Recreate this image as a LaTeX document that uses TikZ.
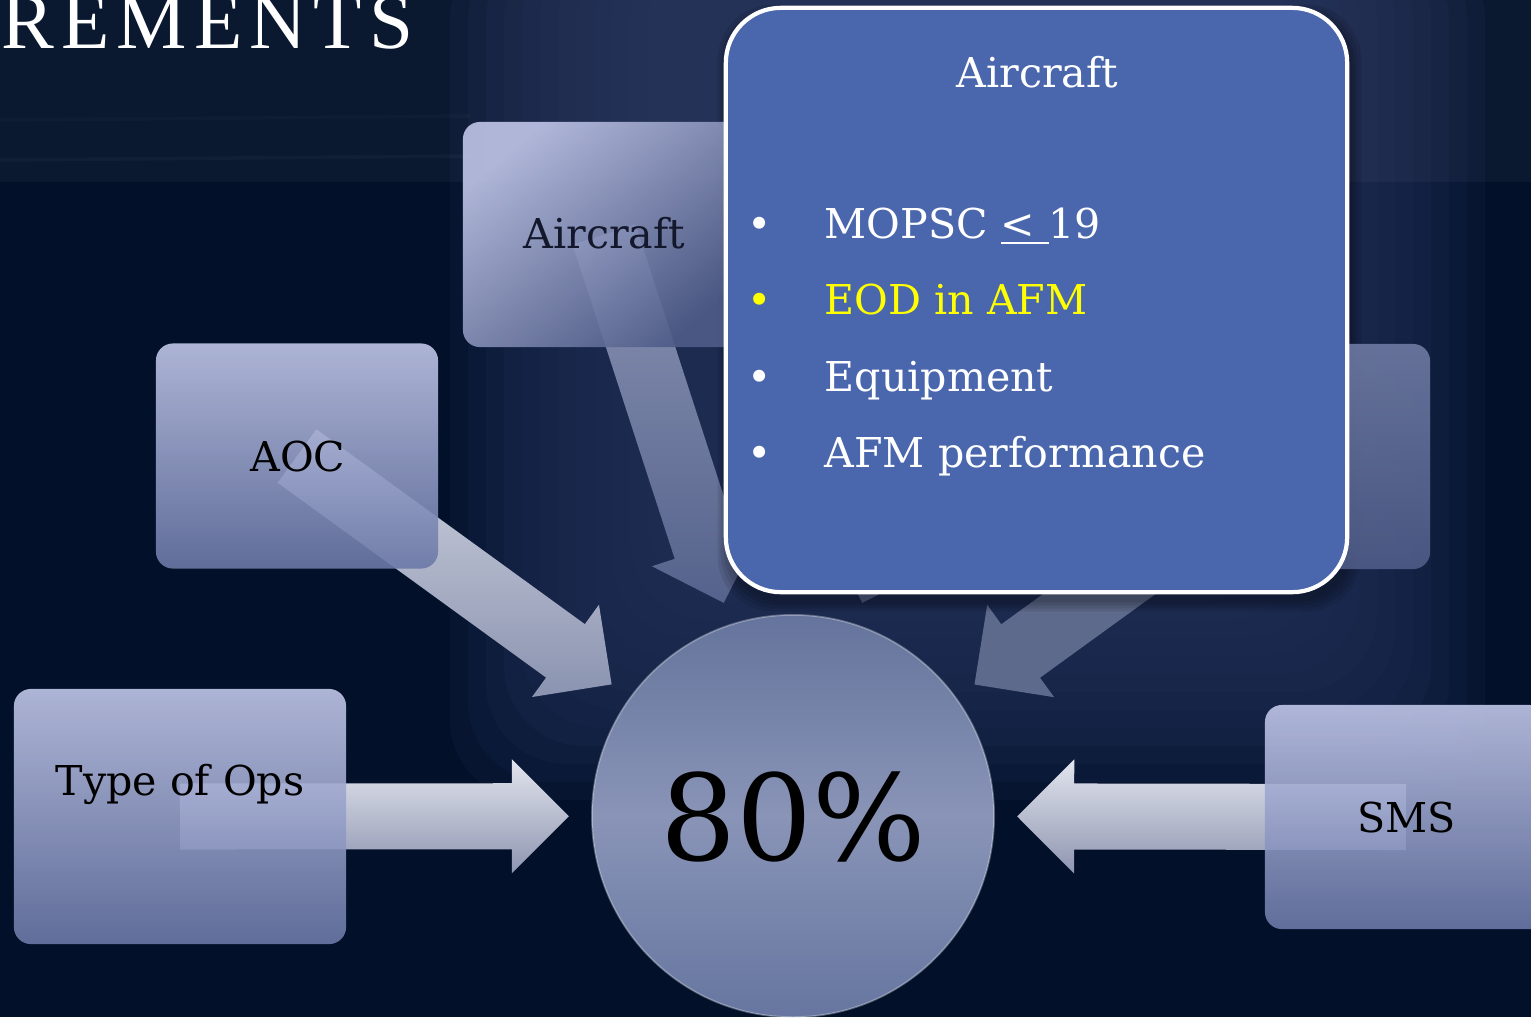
\documentclass[tikz,border=0pt]{standalone}
\usepackage{fontspec}
\setmainfont{DejaVu Serif}
\newfontfamily\headfont{Liberation Serif}[LetterSpace=9]
\usetikzlibrary{calc}

% palette
\definecolor{bgdark}{HTML}{021029}
\definecolor{bgglow}{HTML}{223058}
\definecolor{panelhi}{HTML}{C0C6E8}
\definecolor{panello}{HTML}{6B78A7}
\definecolor{paneldk}{HTML}{4F5C88}
\definecolor{panelmid}{HTML}{6E7AA2}
\definecolor{calloutblue}{HTML}{4A67AE}
\definecolor{hubtop}{HTML}{65749C}
\definecolor{hubmid}{HTML}{8994B7}
\definecolor{hubbot}{HTML}{6676A0}
\definecolor{arrowhi}{HTML}{E2E5EE}
\definecolor{arrowlo}{HTML}{8E95B0}
\definecolor{aochi}{HTML}{D2D5E0}
\definecolor{aoclo}{HTML}{8A93B0}
\definecolor{acfthi}{HTML}{8A94B4}
\definecolor{acftlo}{HTML}{55628B}
\definecolor{arrowdim}{HTML}{5E6A8C}
\definecolor{arrowdimmer}{HTML}{56628A}
\definecolor{acfttext}{HTML}{14182C}
\definecolor{eodyellow}{HTML}{FFFF00}

\pgfdeclarelayer{backdrop}
\pgfdeclarelayer{arrowlayer}
\pgfdeclarelayer{shadowlayer}
\pgfsetlayers{backdrop,arrowlayer,shadowlayer,main}

% block arrow: #1 name, #2 style, #3 start point, #4 target node
% tip stops 224 units short of the target centre; 90 degree head
\newcommand{\blockarrow}[4]{%
  \coordinate (#1-s) at (#3);
  \coordinate (#1-t) at ($(#4.center)!2.24cm!(#3)$);
  \coordinate (#1-b) at ($(#1-t)!0.57cm!(#1-s)$);
  \path[#2] ($(#1-s)!0.33cm!90:(#1-t)$) -- ($(#1-b)!0.33cm!90:(#1-t)$)
    -- ($(#1-b)!0.57cm!90:(#1-t)$) -- (#1-t)
    -- ($(#1-b)!0.57cm!-90:(#1-t)$) -- ($(#1-b)!0.33cm!-90:(#1-t)$)
    -- ($(#1-s)!0.33cm!-90:(#1-t)$) -- cycle;
}

\begin{document}
\begin{tikzpicture}[x=0.01cm, y=-0.01cm,
  panel/.style={rectangle, rounded corners=0.17cm, inner sep=0,
    minimum width=2.82cm, minimum height=2.25cm, fill opacity=0.9,
    top color=panelhi, bottom color=panello},
  lbl/.style={inner sep=0, font=\fontsize{11.7}{14}\selectfont},
  darklbl/.style={lbl, text=black},
  whitelbl/.style={lbl, text=white},
  lightarrow/.style={top color=arrowhi, bottom color=arrowlo},
]
\useasboundingbox (0,0) rectangle (1531,1017);

% ---- backdrop: dark field with a soft, boxy glow in the middle ----
\begin{pgfonlayer}{backdrop}
  \fill[bgdark] (0,0) rectangle (1531,1017);
  \foreach \i in {0,...,11}
    \fill[bgglow, opacity=0.18, rounded corners=0.8cm]
      (450+18*\i,-60) rectangle (1485-18*\i,800-18*\i);
  \fill[white, opacity=0.035] (0,0) rectangle (1531,182);
  \foreach \yy/\op in {120/0.025,160/0.03}
    \draw[white, opacity=\op, line width=1pt] (0,\yy) -- (470,\yy-4);
\end{pgfonlayer}

% ---- title ----
\node[anchor=base east, inner sep=0, text=white,
      font=\headfont\fontsize{22.5}{27}\selectfont] (title) at (414,48) {REMENTS};

% ---- surrounding panels ----
\node[panel, minimum width=3.32cm, minimum height=2.55cm] (ops) at (180,816.5) {};
\node[panel] (aoc) at (297,456) {};
\node[panel, top color=panelhi, bottom color=paneldk, shading angle=40] (acft) at (604,234.5) {};
\node[panel, top color=panelmid, bottom color=paneldk] (rbox) at (1289,456.5) {};
\node[panel, minimum height=2.24cm] (sms) at (1406,817) {};
\coordinate (topr) at (982,234.5);

% ---- central circle ----
\node[circle, inner sep=0, minimum size=4.02cm,
      top color=hubtop, bottom color=hubbot, middle color=hubmid,
      draw=white, draw opacity=0.3, line width=0.5pt] (hub) at (793,816) {};

% ---- arrows into the circle ----
\begin{pgfonlayer}{arrowlayer}
  \blockarrow{a-ops}{lightarrow}{ops.center}{hub}
  \blockarrow{a-sms}{lightarrow}{sms.center}{hub}
  \blockarrow{a-aoc}{top color=aochi, bottom color=aoclo}{aoc.center}{hub}
  \blockarrow{a-acft}{top color=acfthi, bottom color=acftlo}{acft.center}{hub}
  \blockarrow{a-rbox}{fill=arrowdim}{rbox.center}{hub}
  \blockarrow{a-topr}{fill=arrowdimmer}{topr}{hub}
\end{pgfonlayer}

% ---- labels ----
\node[darklbl, anchor=base] (t-ops) at (180,795) {Type of Ops};
\node[darklbl, anchor=base] (t-aoc) at (298,471) {AOC};
\node[lbl, text=acfttext, anchor=base] (t-acft) at (604.5,248) {Aircraft};
\node[darklbl, anchor=base] (t-sms) at (1406.5,832) {SMS};
\node[inner sep=0, text=black, font=\fontsize{34}{40}\selectfont, anchor=base] (t-hub) at (793.5,860) {80\%};

% ---- detail callout ----
\node[rectangle, rounded corners=0.55cm, inner sep=0,
      minimum width=6.21cm, minimum height=5.84cm,
      fill=calloutblue, draw=white, line width=1.2pt] (detail) at (1036.5,300) {};
\begin{pgfonlayer}{shadowlayer}
  \foreach \g in {0,3,6,9}
    \fill[black, opacity=0.09, rounded corners=0.55cm]
      ($(detail.north west)+(3-\g,8-\g)$) rectangle ($(detail.south east)+(3+\g,8+\g)$);
\end{pgfonlayer}

\node[whitelbl, anchor=base] (d-title) at (1037.5,87) {Aircraft};
\node[whitelbl, anchor=base] (d-b1) at (760,238) {•};
\node[whitelbl, anchor=base west] (d-i1) at (824,238) {MOPSC \underline{<\ }19};
\node[lbl, text=eodyellow, anchor=base] (d-b2) at (760,314) {•};
\node[lbl, text=eodyellow, anchor=base west] (d-i2) at (824,314) {EOD in AFM};
\node[whitelbl, anchor=base] (d-b3) at (760,391) {•};
\node[whitelbl, anchor=base west] (d-i3) at (824,391) {Equipment};
\node[whitelbl, anchor=base] (d-b4) at (760,467) {•};
\node[whitelbl, anchor=base west] (d-i4) at (824,467) {AFM performance};
\end{tikzpicture}
\end{document}
